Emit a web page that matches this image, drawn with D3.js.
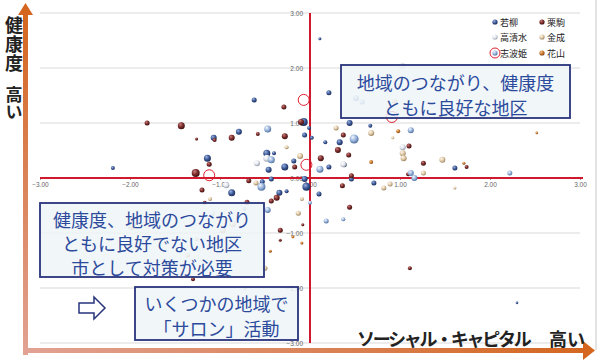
<!DOCTYPE html>
<html><head><meta charset="utf-8">
<script src="https://cdn.jsdelivr.net/npm/d3@7"></script>
<style>
html,body{margin:0;padding:0;background:#fff;}
svg{display:block;font-family:"Noto Sans CJK JP","Noto Sans",sans-serif;}
</style></head>
<body><svg id="c" width="601" height="362"></svg>
<script>
// ---- data: [social capital (x), health (y), bubble size] ----
const seriesNames = ["若柳","栗駒","高清水","金成","志波姫","花山"];
const wakayanagi = [[-0.62,1.42,2.5],[-0.07,1.02,4],[-0.01,0.91,2],[-1.07,0.73,3],[-0.79,0.84,3],[-0.06,0.78,2.5],[0.02,0.73,2],
 [-1.14,0.36,3.5],[-0.48,0.45,3.5],[-0.40,0.45,2],[-0.46,0.15,3],[-0.28,0.20,3.5],[-0.18,0.31,2.5],[-2.19,0.18,2],
 [-0.43,-0.02,2.5],[-0.53,-0.07,2.5],[-0.06,-0.02,3],[0.21,1.55,2.5],[0.44,1.00,3],[0.67,0.95,2],[0.33,0.65,3],
 [0.17,0.65,2],[0.38,0.24,2.5],[0.21,0.20,2.5],[0.46,-0.02,2.5],[0.71,-0.09,2.5],[-0.04,-0.16,4],[1.61,0.18,2.5],
 [-0.87,-0.27,3.5],[-0.34,-0.27,3],[-0.26,-0.24,2],[0.10,-0.29,2.5],[0.11,2.53,1.5],[2.30,-2.27,1.3]];
const kurikoma = [[-0.29,1.29,2.5],[-1.81,1.00,2.5],[-1.43,0.95,3.5],[-0.10,1.02,3],[-1.26,0.71,1.5],[-1.06,0.69,2],
 [-0.87,0.73,3],[-0.58,0.80,2],[-0.28,0.76,3],[-1.12,0.25,2.5],[-0.17,0.20,2.5],[-1.27,0.09,4],[-0.68,-0.05,2.5],
 [0.37,0.78,2.5],[1.10,0.58,2.5],[0.31,0.51,3],[0.43,0.42,2.5],[0.12,0.36,3],[1.26,0.27,2.5],[1.74,0.20,2],
 [1.09,0.07,2],[0.46,0.04,2.5],[0.36,-0.14,2.5],[-1.20,-0.22,2.5],[-0.70,-0.44,2.5],[-0.37,-0.36,3],[-0.43,-0.42,2.5],
 [0.44,-0.53,2.5],[-0.08,-0.85,1.5],[-0.33,-0.95,2.5],[-0.33,-1.13,1.5],[-1.30,-1.84,2],[-1.17,-0.45,2],[1.11,-1.64,2]];
const takashimizu = [[-0.48,0.36,3.5],[-0.59,0.27,3],[1.02,2.04,3],[1.03,0.56,3],[0.37,0.25,3],[-0.93,-0.13,3],[-1.09,-0.64,3]];
const kannari = [[-0.26,0.56,2],[-0.11,0.40,3],[-0.60,-0.09,2.5],[0.29,0.91,2.5],[0.68,0.82,3],[0.92,0.73,1.5],
 [1.03,0.45,3],[1.04,0.36,3],[1.47,0.33,3],[1.26,0.09,2.5],[0.89,-0.11,2.5],[0.82,-0.18,2.5],[1.61,-0.18,1.5],
 [-1.11,-0.38,2],[-0.09,-0.38,2],[-0.13,-0.64,2.5],[-0.50,-1.64,2.5],[0.94,1.40,2.5],[-1.98,-0.87,4],
 [-0.97,-0.95,3],[-0.86,-0.84,3],[-1.36,-1.40,2.5],[-1.26,-1.11,2],[-0.72,-2.00,2]];
const shiwahime = [[-0.47,0.89,3.5],[-0.43,0.33,3.5],[0.11,0.16,3.5],[0.51,1.45,3],[0.58,1.38,2.5],[0.49,0.71,4.5],
 [1.12,0.87,3],[1.12,0.09,3],[1.16,0.00,3],[2.22,0.09,2.5],[-0.54,-0.16,4],[0.00,-0.45,2],[-0.47,-0.58,3],
 [0.18,-0.78,2.5],[0.37,-0.75,2],[-0.73,-0.56,2]];
const hanayama = [[0.98,0.85,2],[0.68,0.29,2],[1.71,0.27,1.5],[-0.19,-1.07,1.5],[-0.09,-1.18,1.5],[-0.44,-1.33,1.5],[2.52,0.82,1.3]];
const highlighted = [[-0.07,1.42],[-0.04,0.24],[-1.12,0.05],[0.91,1.11]];
const axisTicks = [-3,-2,-1,0,1,2,3];
const boxTexts = [["地域のつながり、健康度","ともに良好な地区"],
                  ["健康度、地域のつながり","ともに良好でない地区","市として対策が必要"],
                  ["いくつかの地域で","「サロン」活動"]];
const yTitle = ["健康度","高い"];
const xTitle = ["ソーシャル・キャピタル","高い"];

// ---- styles ----
const palette = [
 ["#9fb4e0","#3d5a98","#1a2a55"],
 ["#c98080","#7b2b2a","#3a100f"],
 ["#ffffff","#e4e7ee","#9098a6"],
 ["#fffaf0","#e0c9a6","#98805e"],
 ["#f4f8ff","#9ab5dc","#4f6d9c"],
 ["#f6c080","#c97a30","#7c4217"]
];
const allSeries = [wakayanagi,kurikoma,takashimizu,kannari,shiwahime,hanayama];

const svg = d3.select("#c");
const x = d3.scaleLinear().domain([-3,3]).range([40,580]);
const y = d3.scaleLinear().domain([-3,3]).range([343,13]);
const r = d3.scaleLinear().domain([0,5]).range([0,5]);

const defs = svg.append("defs");
palette.forEach((p,i)=>{
  const g = defs.append("radialGradient").attr("id","g"+i).attr("cx","40%").attr("cy","38%").attr("r","65%").attr("fx","35%").attr("fy","30%");
  g.append("stop").attr("offset","0%").attr("stop-color",p[0]);
  g.append("stop").attr("offset","55%").attr("stop-color",p[1]);
  g.append("stop").attr("offset","100%").attr("stop-color",p[2]);
});
const vg = defs.append("linearGradient").attr("id","vArrow").attr("x1",0).attr("y1",1).attr("x2",0).attr("y2",0);
vg.append("stop").attr("offset","0%").attr("stop-color","#e2a294");
vg.append("stop").attr("offset","100%").attr("stop-color","#d4661f");
const hg = defs.append("linearGradient").attr("id","hArrow").attr("x1",0).attr("y1",0).attr("x2",1).attr("y2",0);
hg.append("stop").attr("offset","0%").attr("stop-color","#e2a294");
hg.append("stop").attr("offset","100%").attr("stop-color","#d4661f");

// frame line at right
svg.append("line").attr("x1",596).attr("x2",596).attr("y1",0).attr("y2",350).attr("stroke","#c8c8c8").attr("stroke-width",1);

// gridlines
svg.append("g").selectAll("line").data(axisTicks.filter(d=>d!==0)).join("line")
  .attr("x1",x(-3)).attr("x2",x(3)).attr("y1",d=>y(d)).attr("y2",d=>y(d))
  .attr("stroke","#d9d9d9").attr("stroke-width",1);

// axes labels
const fmt = d3.format(".2f");
const gx = svg.append("g").attr("transform",`translate(0,${y(0)})`)
  .call(d3.axisBottom(x).tickValues(axisTicks).tickFormat(fmt).tickSize(2).tickPadding(2));
const gy = svg.append("g").attr("transform",`translate(${x(0)},0)`)
  .call(d3.axisLeft(y).tickValues(axisTicks).tickFormat(fmt).tickSize(0).tickPadding(7));
[gx,gy].forEach(g=>{
  g.select(".domain").remove();
  g.selectAll("line").attr("stroke","#999");
  g.selectAll("text").attr("fill","#666").attr("font-size",6.5).attr("font-family","Liberation Sans, Arial, sans-serif");
});

// red quadrant lines
svg.append("line").attr("x1",x(-3)).attr("x2",x(3)+3).attr("y1",y(0)).attr("y2",y(0)).attr("stroke","#d0192c").attr("stroke-width",2);
svg.append("line").attr("x1",x(0)).attr("x2",x(0)).attr("y1",y(3)).attr("y2",y(-3)).attr("stroke","#d0192c").attr("stroke-width",2);

// bubbles
allSeries.forEach((s,i)=>{
  svg.append("g").selectAll("circle").data(s).join("circle")
    .attr("cx",d=>x(d[0])).attr("cy",d=>y(d[1])).attr("r",d=>r(d[2]))
    .attr("fill",`url(#g${i})`);
});
// highlight rings
svg.append("g").selectAll("circle").data(highlighted).join("circle")
  .attr("cx",d=>x(d[0])).attr("cy",d=>y(d[1])).attr("r",5.5)
  .attr("fill","none").attr("stroke","#e02030").attr("stroke-width",1);

// text boxes
const boxes = [
  {x0:341,y0:65,x1:570,y1:118,lines:boxTexts[0],ly:[82,107]},
  {x0:40,y0:203,x1:264,y1:277,lines:boxTexts[1],ly:[219,243,267]},
  {x0:135,y0:287,x1:298,y1:340,lines:boxTexts[2],ly:[303,328]}
];
boxes.forEach(b=>{
  svg.append("rect").attr("x",b.x0).attr("y",b.y0).attr("width",b.x1-b.x0).attr("height",b.y1-b.y0)
    .attr("fill","#eef4f8").attr("fill-opacity",0.85).attr("stroke","#28347c").attr("stroke-width",1.8);
  b.lines.forEach((t,j)=>{
    svg.append("text").attr("x",(b.x0+b.x1)/2).attr("y",b.ly[j]).attr("text-anchor","middle")
      .attr("dominant-baseline","central").attr("font-size",18).attr("fill","#2c4a9c").text(t);
  });
});

// outline arrow ⇨
svg.append("path").attr("d","M79,303 L94,303 L94,297 L105,308 L94,319 L94,313 L79,313 Z")
  .attr("fill","#fff").attr("stroke","#28347c").attr("stroke-width",1.5).attr("stroke-linejoin","miter");

// axis arrows
svg.append("rect").attr("x",23).attr("y",13).attr("width",5).attr("height",342).attr("fill","url(#vArrow)");
svg.append("path").attr("d","M18,15 L25.5,3 L33,15 Z").attr("fill","#d4661f");
svg.append("rect").attr("x",23).attr("y",348).attr("width",562).attr("height",5).attr("fill","url(#hArrow)");
svg.append("path").attr("d","M583,341 L595,350.5 L583,360 Z").attr("fill","#d4661f");

// axis titles (vertical)
svg.append("text").attr("x",14).attr("y",16).attr("font-size",18).attr("font-weight","bold").attr("fill","#222")
  .style("writing-mode","vertical-rl").style("letter-spacing","1px").attr("text-anchor","start").text(yTitle[0]);
svg.append("text").attr("x",14).attr("y",86).attr("font-size",17).attr("font-weight","bold").attr("fill","#222")
  .style("writing-mode","vertical-rl").attr("text-anchor","start").text(yTitle[1]);
// x title (one text, two parts)
const xt = svg.append("text").attr("y",338).attr("dominant-baseline","central")
  .attr("font-size",18).attr("font-weight","bold").attr("fill","#222");
xt.append("tspan").attr("x",357).style("letter-spacing","-2.3px").text(xTitle[0]);
xt.append("tspan").attr("x",549).style("letter-spacing","0px").text(xTitle[1]);

// legend
const legendPos = [[495,22],[542,22],[495,37],[542,37],[495,53],[542,53]];
seriesNames.forEach((n,i)=>{
  const [lx,ly] = legendPos[i];
  svg.append("circle").attr("cx",lx).attr("cy",ly).attr("r",2.6).attr("fill",`url(#g${i})`);
  svg.append("text").attr("x",lx+5).attr("y",ly).attr("dominant-baseline","central").attr("font-size",9).attr("fill","#222").text(n);
});
svg.append("circle").attr("cx",495).attr("cy",53).attr("r",5).attr("fill","none").attr("stroke","#e02030").attr("stroke-width",1);
</script></body></html>
